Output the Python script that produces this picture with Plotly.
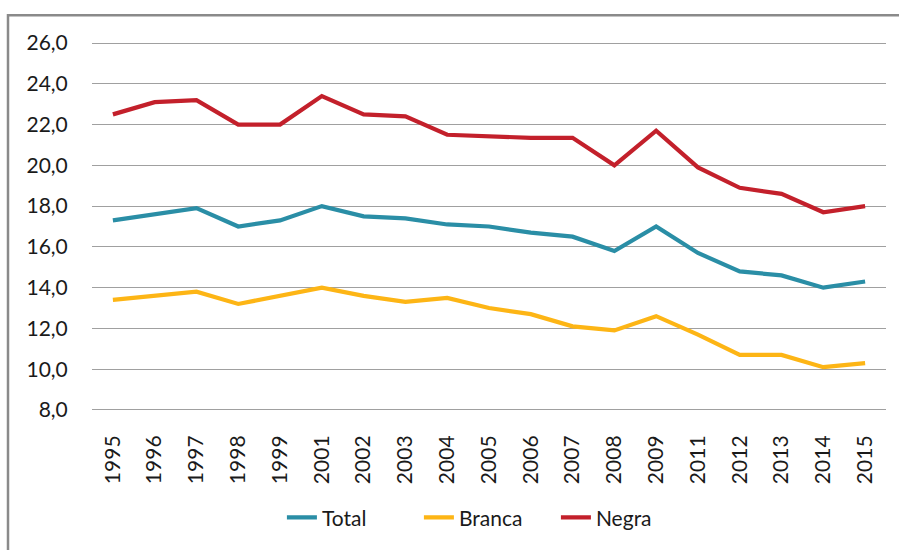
import plotly.graph_objects as go

years = ["1995", "1996", "1997", "1998", "1999", "2001", "2002", "2003", "2004",
         "2005", "2006", "2007", "2008", "2009", "2011", "2012", "2013", "2014", "2015"]
total = [17.3, 17.6, 17.9, 17.0, 17.3, 18.0, 17.5, 17.4, 17.1,
         17.0, 16.7, 16.5, 15.8, 17.0, 15.7, 14.8, 14.6, 14.0, 14.3]
branca = [13.4, 13.6, 13.8, 13.2, 13.6, 14.0, 13.6, 13.3, 13.5,
          13.0, 12.7, 12.1, 11.9, 12.6, 11.7, 10.7, 10.7, 10.1, 10.3]
negra = [22.5, 23.1, 23.2, 22.0, 22.0, 23.4, 22.5, 22.4, 21.5,
         21.4, 21.35, 21.35, 20.0, 21.7, 19.9, 18.9, 18.6, 17.7, 18.0]
y_ticks = [8, 10, 12, 14, 16, 18, 20, 22, 24, 26]
y_labels = ["8,0", "10,0", "12,0", "14,0", "16,0", "18,0", "20,0", "22,0", "24,0", "26,0"]

series = [("Total", total, "#2A8EA6"), ("Branca", branca, "#FDB515"), ("Negra", negra, "#C3202B")]

fig = go.Figure()
for name, vals, col in series:
    fig.add_trace(go.Scatter(x=years, y=vals, name=name, mode="lines",
                             line=dict(color=col, width=4.2)))

font = "Lato, 'Open Sans', sans-serif"
# plot area: y 41..416 px for range 7.9..26.1 (26 at 43 px, 8 at 414 px)
fig.update_layout(
    width=899, height=550,
    margin=dict(l=92, r=13, t=41, b=134),
    paper_bgcolor="white", plot_bgcolor="white",
    font=dict(family=font, size=21, color="#1a1a1a"),
    showlegend=True,
    legend=dict(orientation="h", x=0.498, xanchor="center", y=-0.285, yanchor="middle",
                font=dict(size=21), itemwidth=30, entrywidth=92, entrywidthmode="pixels",
                tracegroupgap=0, bgcolor="rgba(0,0,0,0)"),
    xaxis=dict(type="category", range=[-0.5, len(years) - 0.5], tickangle=-90,
               showgrid=False, showline=False, zeroline=False,
               ticks="outside", ticklen=14, tickcolor="rgba(0,0,0,0)",
               tickfont=dict(size=21)),
    yaxis=dict(range=[7.9, 26.1], tickvals=y_ticks, ticktext=y_labels,
               showgrid=True, gridcolor="#A0A0A0", gridwidth=1.3,
               zeroline=False, showline=False,
               ticks="outside", ticklen=19, tickcolor="rgba(0,0,0,0)",
               tickfont=dict(size=21)),
)

# outer frame (cropped at right and bottom)
x_left = (8 - 92) / 794
y_top = (416 - 15) / 375
fig.add_shape(type="rect", xref="paper", yref="paper", x0=x_left, x1=1.2, y0=-0.6, y1=y_top,
              line=dict(color="#8A8A8A", width=2.5), fillcolor="rgba(0,0,0,0)", layer="below")

fig.write_html("out.html", config={"displayModeBar": False},
               post_script="document.body.style.margin='0';")
